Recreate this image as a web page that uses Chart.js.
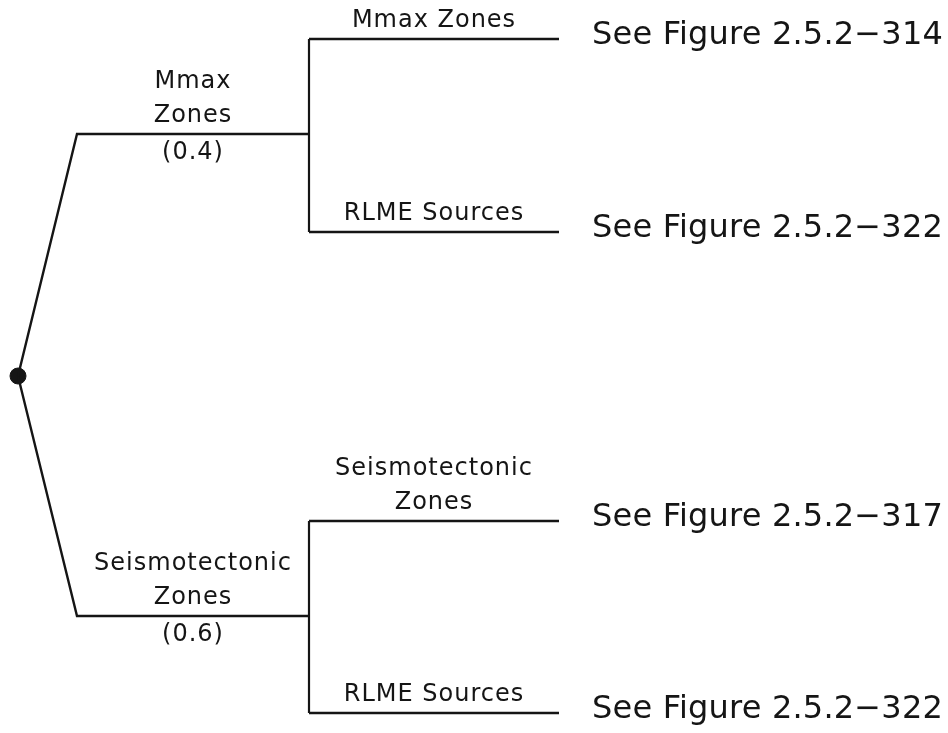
<!DOCTYPE html>
<html>
<head>
<meta charset="utf-8">
<script src="https://cdn.jsdelivr.net/npm/chart.js@4.4.1/dist/chart.umd.min.js"></script>
<style>
  html, body { margin: 0; padding: 0; background: #fff; }
  #wrap { width: 948px; height: 733px; }
</style>
</head>
<body>
<div id="wrap"><canvas id="tree"></canvas></div>
<script>
// Árbol lógico: fuentes sísmicas
const branchNames = [["Mmax", "Zones"], ["Seismotectonic", "Zones"]];
const branchWeights = ["(0.4)", "(0.6)"];
const subBranchNames = [[["Mmax Zones"], ["RLME Sources"]], [["Seismotectonic", "Zones"], ["RLME Sources"]]];
const figureRefs = [["See Figure 2.5.2\u2212314", "See Figure 2.5.2\u2212322"], ["See Figure 2.5.2\u2212317", "See Figure 2.5.2\u2212322"]];

// posiciones de los nodos en unidades del árbol
const levelX = [18, 77, 309, 559];
const rootY = 376;
const branchY = [134, 616];
const leafY = [[39, 232], [521, 713]];

const ink = "#151515";
const datasets = [];

branchY.forEach(function (by, i) {
    // rama principal: raíz -> esquina -> nodo
    datasets.push({
        data: [{ x: levelX[0], y: rootY }, { x: levelX[1], y: by }, { x: levelX[2], y: by }],
        showLine: true, borderColor: ink, borderWidth: 2.4, pointRadius: 0, tension: 0
    });
    // vertical de sub-ramas
    datasets.push({
        data: [{ x: levelX[2], y: leafY[i][0] }, { x: levelX[2], y: leafY[i][1] }],
        showLine: true, borderColor: ink, borderWidth: 2.2, pointRadius: 0
    });
    leafY[i].forEach(function (ly) {
        datasets.push({
            data: [{ x: levelX[2], y: ly }, { x: levelX[3], y: ly }],
            showLine: true, borderColor: ink, borderWidth: 2.4, pointRadius: 0
        });
    });
});

// nodo raíz
datasets.push({
    data: [{ x: levelX[0], y: rootY }],
    pointRadius: 8, pointBackgroundColor: ink, pointBorderColor: ink, showLine: false
});

const labelsPlugin = {
    id: "treeLabels",
    afterDatasetsDraw(chart) {
        const ctx = chart.ctx;
        const sx = chart.scales.x, sy = chart.scales.y;
        ctx.save();
        ctx.fillStyle = ink;
        ctx.textBaseline = "alphabetic";
        const smallFont = "24px 'DejaVu Sans'";

        function stack(lines, cx, lineY) {
            ctx.font = smallFont;
            ctx.letterSpacing = "1px";
            ctx.textAlign = "center";
            const n = lines.length;
            lines.forEach(function (t, k) {
                ctx.fillText(t, cx, lineY - 12 - (n - 1 - k) * 34);
            });
        }

        branchY.forEach(function (by, i) {
            const cx = (sx.getPixelForValue(levelX[1]) + sx.getPixelForValue(levelX[2])) / 2;
            const py = sy.getPixelForValue(by);
            stack(branchNames[i], cx, py);
            ctx.textAlign = "center";
            ctx.fillText(branchWeights[i], cx, py + 25);

            leafY[i].forEach(function (ly, j) {
                const scx = (sx.getPixelForValue(levelX[2]) + sx.getPixelForValue(levelX[3])) / 2;
                const spy = sy.getPixelForValue(ly);
                stack(subBranchNames[i][j], scx, spy);
                ctx.font = "32px 'DejaVu Sans'";
                ctx.letterSpacing = "0.2px";
                ctx.textAlign = "left";
                ctx.fillText(figureRefs[i][j], sx.getPixelForValue(levelX[3]) + 33, spy + 5);
            });
        });
        ctx.restore();
    }
};

new Chart(document.getElementById("tree"), {
    type: "scatter",
    data: { datasets: datasets },
    options: {
        responsive: true,
        maintainAspectRatio: false,
        animation: false,
        layout: { padding: 0, autoPadding: false },
        plugins: { legend: { display: false }, tooltip: { enabled: false } },
        scales: {
            x: { type: "linear", min: 0, max: 948, display: false },
            y: { type: "linear", min: 0, max: 733, reverse: true, display: false }
        }
    },
    plugins: [labelsPlugin]
});
</script>
</body>
</html>
